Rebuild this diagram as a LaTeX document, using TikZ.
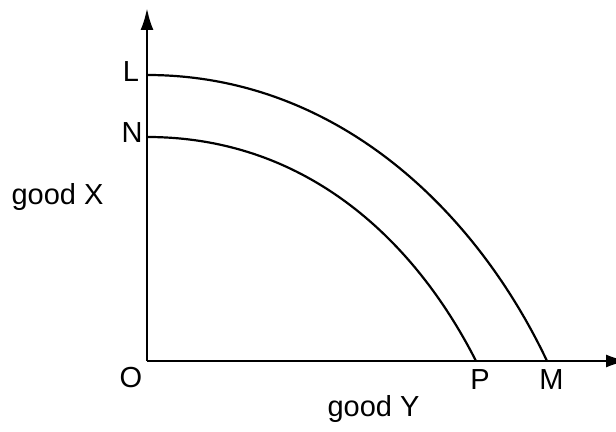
\documentclass[tikz,border=0pt]{standalone}
\usepackage{fontspec}
\setmainfont{Liberation Sans}
\usepackage{tikz}
\usetikzlibrary{arrows.meta}

\begin{document}
\begin{tikzpicture}[x=0.5pt,y=0.5pt,
  axis/.style={line width=1.4pt,-{Latex[length=11pt,width=6.5pt]}},
  curve/.style={line width=1.1pt},
  lbl/.style={anchor=base,inner sep=0pt,font=\fontsize{14.5}{17}\selectfont}]
  \useasboundingbox (-147,-71) rectangle (469,361);

  % Axes
  \coordinate (O) at (0,0);
  \coordinate (ytop) at (0,353);
  \coordinate (xend) at (481,0);
  \draw[axis] (O) -- (ytop);
  \draw[axis] (O) -- (xend);

  % Intercepts
  \coordinate (L) at (0,286);
  \coordinate (N) at (0,224);
  \coordinate (P) at (329,0);
  \coordinate (M) at (400,0);

  % Outer and inner frontier
  \draw[curve] (L) .. controls +(190,0) and +(-71,150) .. (M);
  \draw[curve] (N) .. controls +(160,0) and +(-61,120) .. (P);

  % Labels
  \node[lbl] (labL) at (-16,279) {L};
  \node[lbl] (labN) at (-15,218) {N};
  \node[lbl] (labO) at (-16,-27) {O};
  \node[lbl] (labP) at (333,-29) {P};
  \node[lbl] (labM) at (404.5,-29) {M};
  \node[lbl] (goodX) at (-89.5,156) {good X};
  \node[lbl] (goodY) at (226.5,-56) {good Y};
\end{tikzpicture}
\end{document}
